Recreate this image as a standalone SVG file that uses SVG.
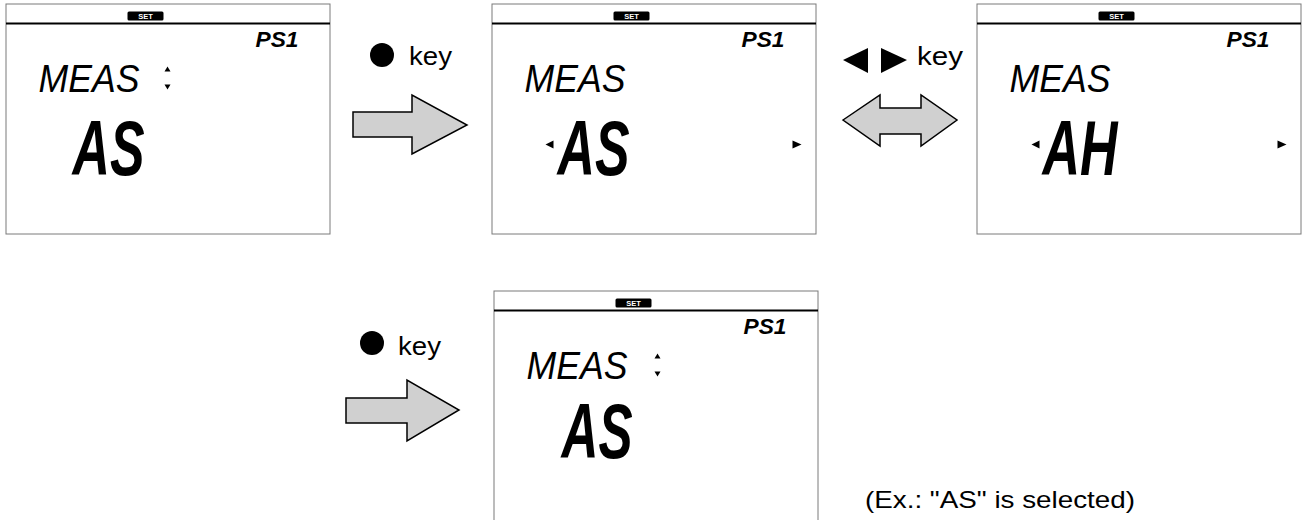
<svg xmlns="http://www.w3.org/2000/svg" xmlns:xlink="http://www.w3.org/1999/xlink" width="1302" height="520" viewBox="0 0 1302 520">
<style>
.frame{fill:#fff;stroke:#7a7a7a;stroke-width:1}
.rule{stroke:#000;stroke-width:2}
.badge{fill:#000}
.badgetxt{fill:#fff;font-family:"Liberation Sans",Arial,sans-serif;font-weight:bold;font-size:7.5px;text-anchor:middle}
.seg{fill:#000;font-family:"Liberation Sans Narrow","Liberation Sans",Arial,sans-serif;font-style:italic}
.ps{font-size:22px;font-weight:bold}
.meas{font-size:38px}
.big{font-size:78px;font-weight:bold}
.lbl{fill:#000;font-family:"Liberation Sans",Arial,sans-serif;font-size:25px}
.note{fill:#000;font-family:"Liberation Sans",Arial,sans-serif;font-size:24px}
.arrow{fill:#d0d0d0;stroke:#000;stroke-width:1.5;stroke-linejoin:miter}
.tri{fill:#000}
</style>
<defs>
<g id="frame">
<rect class="frame" x="0.5" y="0.5" width="324" height="230"/>
<line class="rule" x1="0.5" y1="20" x2="324.5" y2="20"/>
<rect class="badge" x="122" y="8" width="36" height="9" rx="1.5"/>
<text class="badgetxt" x="140" y="15.5">SET</text>
<text class="seg ps" x="250" y="43" textLength="43" lengthAdjust="spacingAndGlyphs">PS1</text>
<text class="seg meas" x="33" y="88" textLength="101" lengthAdjust="spacingAndGlyphs">MEAS</text>
</g>
<g id="updown">
<polygon class="tri" points="0,5 3,0 6,5"/>
<polygon class="tri" points="0,18 6,18 3,23"/>
</g>
</defs>

<g id="panel1" transform="translate(5.5,3.5)">
<use xlink:href="#frame"/>
<use xlink:href="#updown" transform="translate(159,63)"/>
<text class="seg big" x="67" y="171" textLength="72" lengthAdjust="spacingAndGlyphs">AS</text>
</g>

<g id="panel2" transform="translate(491.5,3.5)">
<use xlink:href="#frame"/>
<polygon class="tri" points="54,141 62,137 62,145"/>
<text class="seg big" x="66" y="171" textLength="72" lengthAdjust="spacingAndGlyphs">AS</text>
<polygon class="tri" points="301,137 310,141 301,145"/>
</g>

<g id="panel3" transform="translate(976.5,3.5)">
<use xlink:href="#frame"/>
<polygon class="tri" points="55,141 63,137 63,145"/>
<text class="seg big" x="66" y="171" textLength="75" lengthAdjust="spacingAndGlyphs">AH</text>
<polygon class="tri" points="301,137 310,141 301,145"/>
</g>

<g id="panel4" transform="translate(493.5,290.5)">
<use xlink:href="#frame"/>
<use xlink:href="#updown" transform="translate(161,63)"/>
<text class="seg big" x="68" y="167" textLength="71" lengthAdjust="spacingAndGlyphs">AS</text>
</g>

<g id="connectors">
<g id="arrow1">
<polygon class="arrow" points="353,112 412,112 412,95 467,125 412,154 412,137 353,137"/>
<circle cx="382" cy="55" r="12" fill="#000"/>
<text class="lbl" x="409" y="65" textLength="43" lengthAdjust="spacingAndGlyphs">key</text>
</g>
<g id="arrow2">
<polygon class="arrow" points="843,120 880,95 880,108 921,108 921,95 957,120 921,146 921,134 880,134 880,146"/>
<polygon class="tri" points="843,60 868,48 868,73"/>
<polygon class="tri" points="881,48 907,60 881,73"/>
<text class="lbl" x="917" y="65" textLength="46" lengthAdjust="spacingAndGlyphs">key</text>
</g>
<g id="arrow3">
<polygon class="arrow" points="346,398 407,398 407,380 459,410 407,441 407,423 346,423"/>
<circle cx="372" cy="343" r="12" fill="#000"/>
<text class="lbl" x="398" y="355" textLength="43" lengthAdjust="spacingAndGlyphs">key</text>
</g>
</g>

<text id="note" class="note" x="865" y="508" textLength="270" lengthAdjust="spacingAndGlyphs">(Ex.: "AS" is selected)</text>
</svg>
